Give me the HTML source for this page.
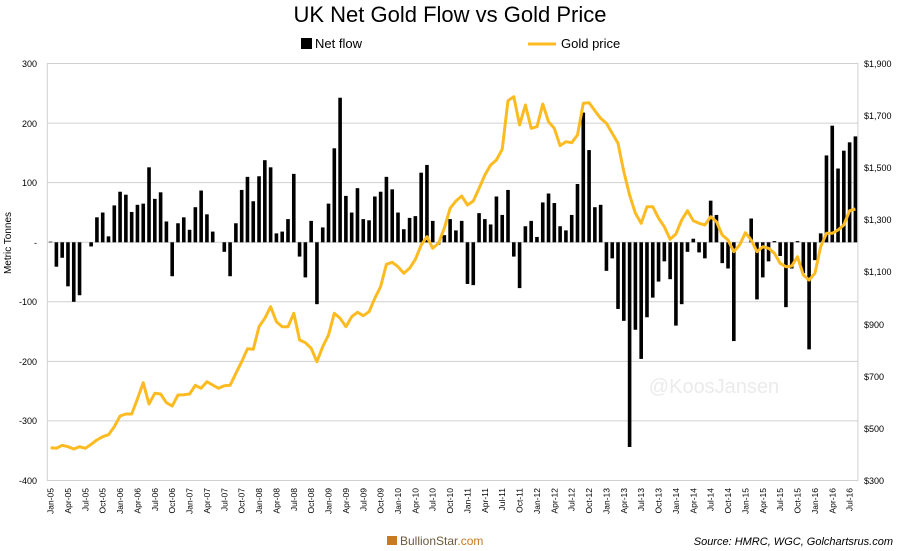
<!DOCTYPE html>
<html><head><meta charset="utf-8"><style>
body{margin:0;background:#fff;}
svg{display:block;font-family:"Liberation Sans",sans-serif;}
</style></head><body>
<svg id="c" width="900" height="551" viewBox="0 0 900 551" xmlns="http://www.w3.org/2000/svg">
<text x="450" y="22" font-size="22" text-anchor="middle" fill="#000">UK Net Gold Flow vs Gold Price</text>
<rect x="301" y="38" width="11" height="11" fill="#000"/>
<text x="315" y="48" font-size="13">Net flow</text>
<line x1="528" y1="44" x2="556" y2="44" stroke="#FDBB22" stroke-width="3"/>
<text x="561" y="48" font-size="13">Gold price</text>
<g id="grid" stroke="#d0d0d0" stroke-width="1"></g>
<rect x="47.3" y="63.5" width="810.6" height="417" fill="none" stroke="#d0d0d0"/>
<g font-size="9" text-anchor="end" fill="#000">
<text x="37" y="67">300</text><text x="37" y="127">200</text><text x="37" y="186">100</text><text x="37" y="246">-</text><text x="37" y="305">-100</text><text x="37" y="365">-200</text><text x="37" y="424">-300</text><text x="37" y="484">-400</text>
</g>
<g font-size="9" text-anchor="start" fill="#000">
<text x="864" y="67">$1,900</text><text x="864" y="119">$1,700</text><text x="864" y="171">$1,500</text><text x="864" y="223">$1,300</text><text x="864" y="275">$1,100</text><text x="864" y="328">$900</text><text x="864" y="380">$700</text><text x="864" y="432">$500</text><text x="864" y="484">$300</text>
</g>
<text transform="translate(11,243) rotate(-90)" font-size="10" text-anchor="middle">Metric Tonnes</text>
<text x="714" y="393" font-size="20" text-anchor="middle" fill="#ebebeb">@KoosJansen</text>
<g id="xl" font-size="8.5" text-anchor="end"></g>
<g id="bars" fill="#000"></g>
<polyline id="gl" fill="none" stroke="#FDBB22" stroke-width="3" stroke-linejoin="round"/>
<rect x="387" y="536" width="10" height="9" fill="#c9791f"/>
<text x="400" y="545" font-size="12" fill="#6b5a3c">BullionStar<tspan fill="#c9791f">.com</tspan></text>
<text x="893" y="545" font-size="11" font-style="italic" text-anchor="end">Source: HMRC, WGC, Golchartsrus.com</text>
<g id="xlab" font-size="8.5" text-anchor="end">
<text>Jan-05</text><text>Apr-05</text><text>Jul-05</text><text>Oct-05</text><text>Jan-06</text><text>Apr-06</text><text>Jul-06</text><text>Oct-06</text><text>Jan-07</text><text>Apr-07</text><text>Jul-07</text><text>Oct-07</text><text>Jan-08</text><text>Apr-08</text><text>Jul-08</text><text>Oct-08</text><text>Jan-09</text><text>Apr-09</text><text>Jul-09</text><text>Oct-09</text><text>Jan-10</text><text>Apr-10</text><text>Jul-10</text><text>Oct-10</text><text>Jan-11</text><text>Apr-11</text><text>Jul-11</text><text>Oct-11</text><text>Jan-12</text><text>Apr-12</text><text>Jul-12</text><text>Oct-12</text><text>Jan-13</text><text>Apr-13</text><text>Jul-13</text><text>Oct-13</text><text>Jan-14</text><text>Apr-14</text><text>Jul-14</text><text>Oct-14</text><text>Jan-15</text><text>Apr-15</text><text>Jul-15</text><text>Oct-15</text><text>Jan-16</text><text>Apr-16</text><text>Jul-16</text>
</g>
</svg>
<script>
var NS="http://www.w3.org/2000/svg";
var v=[1,-41,-26,-74,-100,-89,0,-7,42,50,10,62,85,80,51,63,65,126,73,84,35,-57,32,42,21,59,87,47,18,0,-16,-57,32,88,110,69,111,138,126,15,18,39,115,-24,-59,36,-104,
25,65,158,243,78,50,91,39,37,77,85,110,89,50,22,41,44,117,130,36,-4,12,39,20,36,-70,-72,49,39,30,77,46,88,-24,-77,27,36,9,67,82,66,27,20,46,98,218,155,
59,63,-48,-27,-112,-132,-344,-147,-196,-126,-93,-66,-32,-62,-140,-104,-16,6,-17,-27,70,46,-35,-44,-166,0,0,40,-96,-59,-32,2,-23,-109,-44,2,-52,-180,-30,15,146,196,124,154,168,178];
var g=[1163,1165,1156,1160,1167,1160,1165,1153,1140,1130,1124,1100,1068,1062,1062,1017,968,1032,1000,1002,1028,1038,1005,1004,1002,976,985,965,975,985,977,976,940,905,866,868,800,775,740,785,800,800,760,840,848,865,905,860,825,760,775,800,770,757,767,755,715,680,613,607,620,640,625,598,555,530,565,550,505,445,423,408,435,423,385,345,315,300,268,122,110,195,135,205,200,132,185,205,257,245,248,225,130,128,152,175,190,220,250,335,405,460,490,440,440,475,500,538,522,480,452,482,490,495,470,485,525,540,575,555,518,540,575,560,565,580,610,620,618,590,645,660,640,560,520,520,510,495,452,447];
var b=document.getElementById("bars"),z=242.3,s=0.595;
var gr=document.getElementById("grid");
for(var k=1;k<7;k++){var y=63.5+k*59.57;var l=document.createElementNS(NS,"line");l.setAttribute("x1",47.3);l.setAttribute("x2",857.9);l.setAttribute("y1",y);l.setAttribute("y2",y);gr.appendChild(l);}
var pts=[];
for(var i=0;i<140;i++){var cx=50.6+5.79*i;var h=v[i]*s;
 if(h!=0){var r=document.createElementNS(NS,"rect");r.setAttribute("x",cx-1.8);r.setAttribute("width",3.6);r.setAttribute("y",h>0?z-h:z);r.setAttribute("height",Math.abs(h));b.appendChild(r);}
 pts.push(cx.toFixed(1)+","+(g[i]/3+60).toFixed(1));}
document.getElementById("gl").setAttribute("points",pts.join(" "));
var t=document.getElementById("xlab").children;
for(var j=0;j<t.length;j++){var x=50.6+5.79*3*j+3;t[j].setAttribute("transform","translate("+x+",488) rotate(-90)");}
</script>
</body></html>
